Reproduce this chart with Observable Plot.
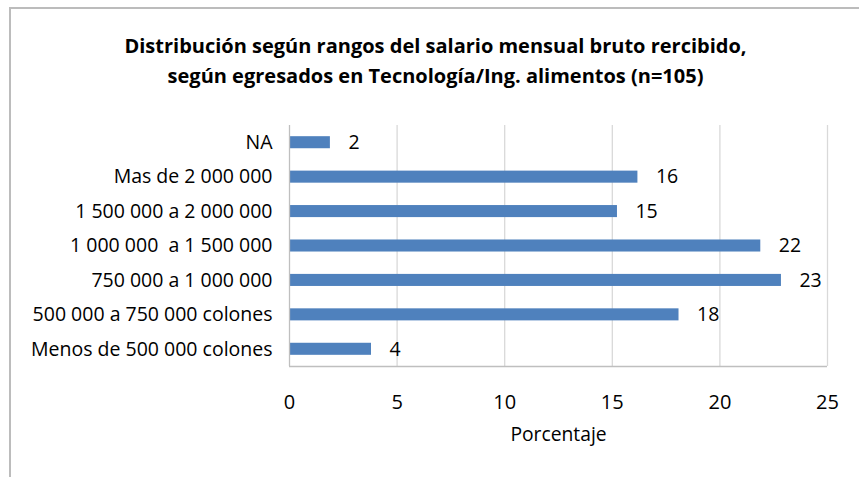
<!DOCTYPE html>
<html>
<head>
<meta charset="utf-8">
<script src="https://cdn.jsdelivr.net/npm/d3@7"></script>
<script src="https://cdn.jsdelivr.net/npm/@observablehq/plot@0.6"></script>
<style>
  body { margin: 0; background: #fff; font-family: "Open Sans", Lato, sans-serif; }
  #wrap { position: relative; width: 859px; height: 477px; overflow: hidden; }
  #frame { position: absolute; left: 9px; top: 7px; width: 860px; height: 480px; border-top: 2px solid #bcbcbc; border-left: 2px solid #bcbcbc; box-sizing: border-box; }
  #title { position: absolute; left: 12px; width: 847px; top: 31px; text-align: center; font-weight: bold; font-size: 20px; line-height: 30px; color: #000; }
  #chart { position: absolute; left: 0; top: 0; }
</style>
</head>
<body>
<div id="wrap">
  <div id="frame"></div>
  <div id="title">Distribución según rangos del salario mensual bruto rercibido,<br>según egresados en Tecnología/Ing. alimentos (n=105)</div>
  <div id="chart"></div>
</div>
<script>
const categories = [
  "NA",
  "Mas de 2 000 000",
  "1 500 000 a 2 000 000",
  "1 000 000  a 1 500 000",
  "750 000 a 1 000 000",
  "500 000 a 750 000 colones",
  "Menos de 500 000 colones"
];
const values = [1.90, 16.19, 15.24, 21.90, 22.86, 18.10, 3.81];
const valueLabels = ["2", "16", "15", "22", "23", "18", "4"];
const xTicks = [0, 5, 10, 15, 20, 25];
const xLabel = "Porcentaje";

const data = categories.map((c, i) => ({cat: c, v: values[i], lab: valueLabels[i]}));

const H = 477, MT = 125, MB = 111;
const halfStep = (H - MT - MB) / categories.length / 2;

const chart = Plot.plot({
  width: 859,
  height: H,
  marginTop: MT,
  marginBottom: MB,
  marginLeft: 289,
  marginRight: 32,
  style: {fontFamily: "'Open Sans', Lato, sans-serif", color: "#000", background: "transparent", overflow: "visible"},
  x: {domain: [0, 25], ticks: xTicks},
  y: {domain: categories, paddingInner: 0.65, paddingOuter: 0.325, round: false},
  marks: [
    Plot.gridX(xTicks.filter(d => d > 0), {stroke: "#d9d9d9", strokeOpacity: 1, strokeWidth: 1.3}),
    Plot.barX(data, {x: "v", y: "cat", fill: "#4f81bd"}),
    Plot.ruleX([0], {stroke: "#bfbfbf", strokeWidth: 1.3}),
    Plot.ruleY([categories[categories.length - 1]], {stroke: "#bfbfbf", strokeWidth: 1.3, x1: 0, x2: 25, dy: halfStep}),
    Plot.text(data, {x: "v", y: "cat", text: "lab", textAnchor: "start", dx: 18, fontSize: 19.5, fill: "#000"}),
    Plot.axisX({ticks: xTicks, tickSize: 0, tickPadding: 28, fontSize: 20, label: null}),
    Plot.axisY({tickSize: 0, tickPadding: 17, fontSize: 19.5, label: null}),
    Plot.text([xLabel], {frameAnchor: "bottom", dy: 74, fontSize: 19.3, fill: "#000"})
  ]
});
document.getElementById("chart").appendChild(chart);
</script>
</body>
</html>
